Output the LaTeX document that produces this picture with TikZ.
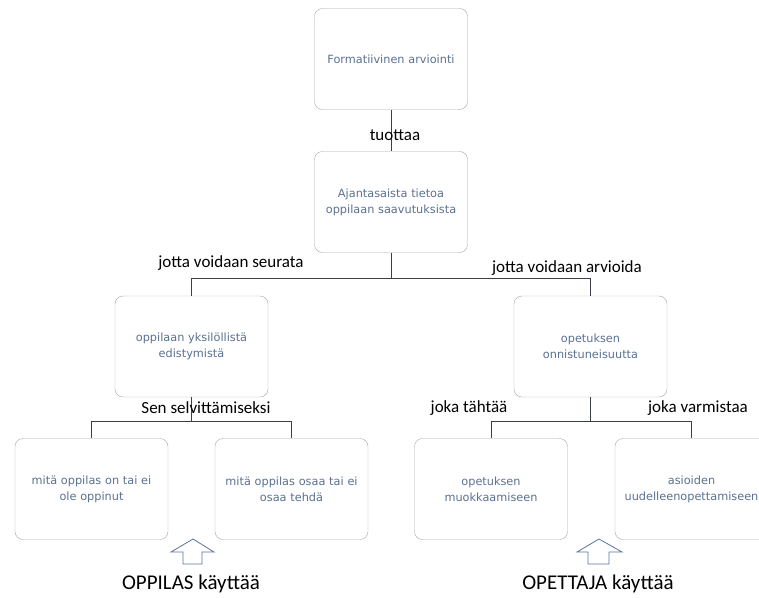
\documentclass[tikz,border=0pt]{standalone}
\usepackage{fontspec}
\setmainfont{Carlito}
\newfontfamily\boxfont{DejaVu Sans}
\usepackage{xcolor}
\usetikzlibrary{positioning}
\definecolor{frame}{HTML}{A6A6A6}
\definecolor{boxtext}{HTML}{5A7090}
\definecolor{wire}{HTML}{3A3F47}
\definecolor{hollow}{HTML}{5A74A0}

\begin{document}
\begin{tikzpicture}[x=1pt,y=-1pt,
  card/.style={draw=frame, rounded corners=8pt, minimum width=153pt, minimum height=101pt,
    inner sep=2pt, align=center, text width=146pt, font=\boxfont\fontsize{11.3}{16}\selectfont, text=boxtext},
  linklabel/.style={font=\fontsize{17}{19}\selectfont, inner sep=0pt},
  userlabel/.style={font=\fontsize{21}{23}\selectfont, inner sep=0pt},
  wires/.style={draw=wire, line width=1pt}]
  \useasboundingbox (0,0) rectangle (759,597);

  % boxes
  \node[card] (formatiivinen) at (391,59) {Formatiivinen arviointi};
  \node[card] (tieto) at (391,202) {Ajantasaista tietoa\\oppilaan saavutuksista};
  \node[card] (edistyminen) at (191.5,346.5) {oppilaan yksilöllistä\\edistymistä};
  \node[card] (onnistuminen) at (590.5,346.5) {opetuksen\\onnistuneisuutta};
  \node[card] (oppinut) at (91.5,489) {mitä oppilas on tai ei\\ole oppinut};
  \node[card] (osaa) at (291.5,489) {mitä oppilas osaa tai ei\\osaa tehdä};
  \node[card] (muokkaus) at (491,489) {opetuksen\\muokkaamiseen};
  \node[card] (uudelleen) at (691.5,489) {asioiden\\uudelleenopettamiseen};

  % junctions
  \coordinate (j1) at (391,278);
  \coordinate (j2) at (191.5,421);
  \coordinate (j3) at (590.5,421);

  \draw[wires] (formatiivinen) -- (tieto);
  \draw[wires] (tieto) -- (j1) -| (edistyminen);
  \draw[wires] (j1) -| (onnistuminen);
  \draw[wires] (edistyminen) -- (j2) -| (oppinut);
  \draw[wires] (j2) -| (osaa);
  \draw[wires] (onnistuminen) -- (j3) -| (muokkaus);
  \draw[wires] (j3) -| (uudelleen);

  % labels
  \node[linklabel] (tuottaa) at (395,135) {tuottaa};
  \node[linklabel] (seurata) at (231,263) {jotta voidaan seurata};
  \node[linklabel] (arvioida) at (567,268) {jotta voidaan arvioida};
  \node[linklabel] (selvitys) at (206,408) {Sen selvittämiseksi};
  \node[linklabel] (tahtaa) at (469,408) {joka tähtää};
  \node[linklabel] (varmistaa) at (698,408) {joka varmistaa};

  % hollow up arrows
  \draw[hollow, line width=0.8pt, fill=white]
    (193,539) -- (214,552) -- (202,552) -- (202,564) -- (183,564) -- (183,552) -- (171,552) -- cycle;
  \draw[hollow, line width=0.8pt, fill=white]
    (599,539) -- (622,552) -- (609,552) -- (609,564) -- (588,564) -- (588,552) -- (577,552) -- cycle;

  \node[userlabel] (oppilas) at (191,584) {OPPILAS käyttää};
  \node[userlabel] (opettaja) at (598,584) {OPETTAJA käyttää};
\end{tikzpicture}
\end{document}
